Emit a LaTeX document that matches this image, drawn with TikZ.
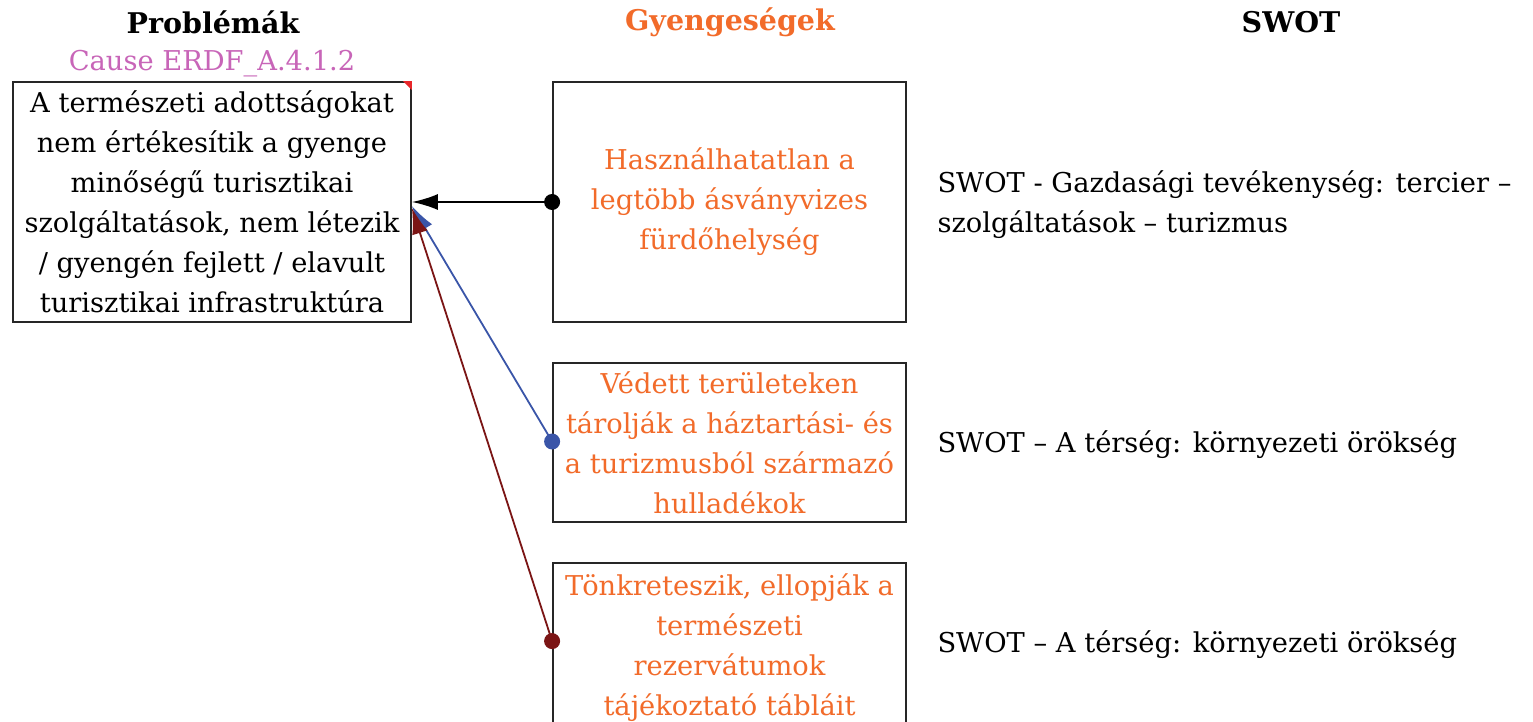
\documentclass[tikz,border=0pt]{standalone}
\usepackage{fontspec}
\setmainfont{DejaVu Serif}
\usetikzlibrary{arrows.meta,calc}
\definecolor{orng}{HTML}{F26B2A}
\definecolor{pinkc}{HTML}{C865B8}
\definecolor{bluec}{HTML}{3A55A8}
\definecolor{redc}{HTML}{7B1515}
\definecolor{cornerred}{HTML}{E8262A}
\tikzset{
  box/.style={draw=black!85, line width=1.8pt, minimum width=#1, inner sep=0pt, align=center},
  body/.style={font=\fontsize{27.3}{40}\selectfont},
  head/.style={font=\fontsize{28.5}{32}\selectfont\bfseries},
  conn/.style={line width=1.8pt, -{Latex[length=26pt,width=16pt]}},
}
\begin{document}
\begin{tikzpicture}[x=1pt,y=-1pt]
\useasboundingbox (0,0) rectangle (1533,722);
\fill[white] (0,0) rectangle (1533,722);
% headings
\node[head] (hp) at (213,22) {Problémák};
\node[head, text=orng] (hg) at (730,22) {Gyengeségek};
\node[head] (hs) at (1291,22) {SWOT};
\node[body, text=pinkc] (cause) at (212,64) {Cause ERDF\_A.4.1.2};
% problem box
\node[box=398pt, minimum height=240pt, body] (p) at (212,202)
  {A természeti adottságokat\\nem értékesítik a gyenge\\minőségű turisztikai\\szolgáltatások, nem létezik\\/ gyengén fejlett / elavult\\turisztikai infrastruktúra};
\fill[cornerred] (p.north east) -- ++(-9,0) -- ++(9,9) -- cycle;
% weakness boxes
\node[box=353pt, minimum height=240pt, body, text=orng] (g1) at (729.5,202)
  {Használhatatlan a\\legtöbb ásványvizes\\fürdőhelység};
\node[box=353pt, minimum height=159pt, body, text=orng] (g2) at (729.5,442.5)
  {Védett területeken\\tárolják a háztartási- és\\a turizmusból származó\\hulladékok};
\node[box=353pt, minimum height=170pt, body, text=orng] (g3) at (729.5,648)
  {Tönkreteszik, ellopják a\\természeti\\rezervátumok\\tájékoztató tábláit};
% SWOT texts
\node[body, anchor=west, align=left] (s1) at (934,205) {SWOT - Gazdasági tevékenység: tercier –\\szolgáltatások – turizmus};
\node[body, anchor=west] (s2) at (934,445) {SWOT – A térség: környezeti örökség};
\node[body, anchor=west] (s3) at (934,645) {SWOT – A térség: környezeti örökség};
% connectors
\coordinate (t1) at (p.east);
\coordinate (t2) at ($(p.east)+(0,4)$);
\coordinate (t3) at ($(p.east)+(0,6)$);
\coordinate (o2) at ($(g2.west)+(0,-1)$);
\coordinate (o3) at ($(g3.north west)+(0,79)$);
\draw[conn, bluec] (o2) -- (t2);
\draw[conn, redc] (o3) -- (t3);
\draw[conn, black] (g1.west) -- (t1);
\fill[black] (g1.west) circle (8pt);
\fill[bluec] (o2) circle (8pt);
\fill[redc] (o3) circle (8pt);
\end{tikzpicture}
\end{document}
